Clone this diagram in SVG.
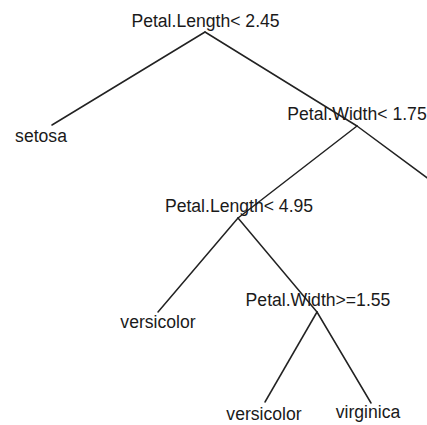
<svg xmlns="http://www.w3.org/2000/svg" width="427" height="425" viewBox="0 0 427 425">
<style>
text{font-family:"Liberation Sans",Arial,sans-serif;font-size:17.6px;fill:#1a1a1a;text-anchor:middle}
.e line{stroke:#222;stroke-width:1.5;stroke-linecap:round}
</style>
<rect width="427" height="425" fill="#fff"/>
<g class="e" id="connectors">
<line x1="205" y1="32" x2="52" y2="125"/>
<line x1="205" y1="32" x2="357" y2="126"/>
<line x1="357" y1="126" x2="238" y2="218"/>
<line x1="357" y1="126" x2="430" y2="180"/>
<line x1="238" y1="218" x2="158" y2="312"/>
<line x1="238" y1="218" x2="317" y2="312"/>
<line x1="317" y1="312" x2="265" y2="402"/>
<line x1="317" y1="312" x2="371" y2="403"/>
</g>
<g id="n1"><text x="205.5" y="27">Petal.Length&lt; 2.45</text></g>
<g id="n2"><text x="41" y="142">setosa</text></g>
<g id="n3"><text x="357" y="120">Petal.Width&lt; 1.75</text></g>
<g id="n4"><text x="239" y="212">Petal.Length&lt; 4.95</text></g>
<g id="n5"><text x="158" y="328">versicolor</text></g>
<g id="n6"><text x="318" y="306">Petal.Width&gt;=1.55</text></g>
<g id="n7"><text x="264" y="420">versicolor</text></g>
<g id="n8"><text x="368" y="418">virginica</text></g>
</svg>
